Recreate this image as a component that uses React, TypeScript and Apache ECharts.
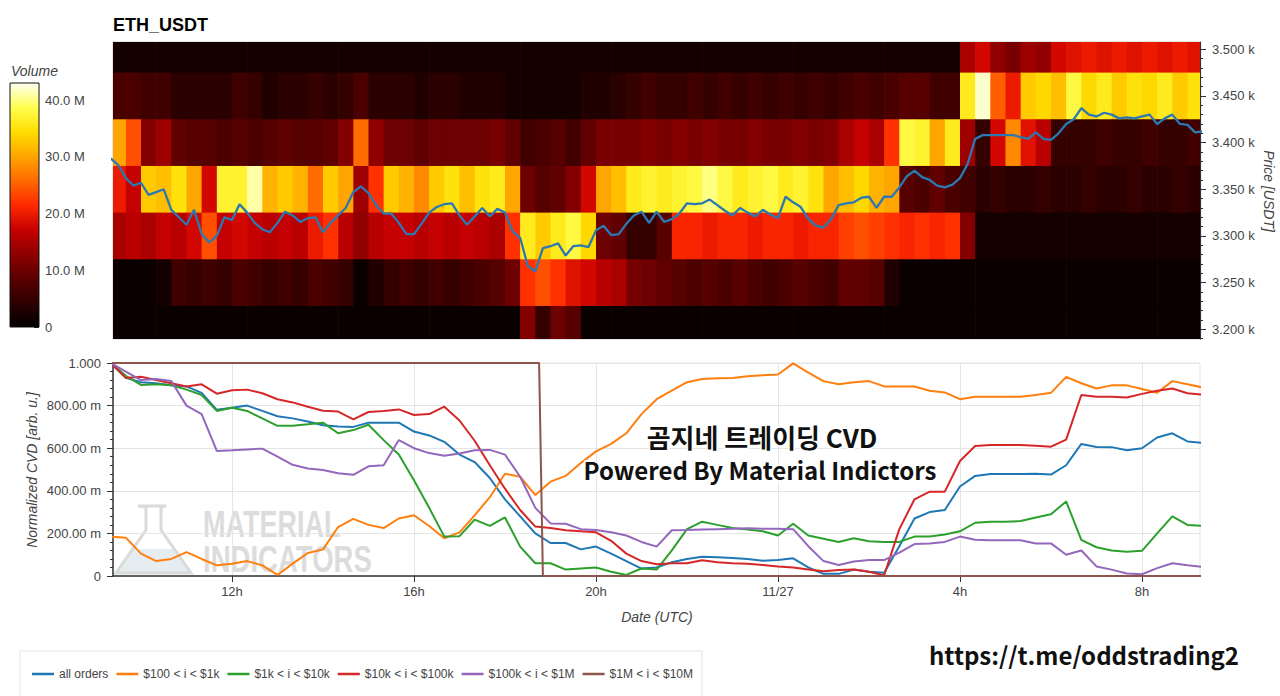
import React, { useEffect, useRef } from "react";
import * as echarts from "echarts";

// ---- time base: hours since 11/26 00:00 UTC ----
const cellStartHour = 9 + 20 / 60; // first heatmap column / first sample, 09:20
const cellHours = 1 / 3; // 20-minute heatmap columns
const priceStepHours = 1 / 6; // 10-minute price samples
const cvdStepHours = 1 / 3; // 20-minute CVD samples
const xMinHour = 9.385;
const xMaxHour = 33.275;

// ---- tick labels ----
const xTickHours = [12, 16, 20, 24, 28, 32];
const priceTicks = [3200, 3250, 3300, 3350, 3400, 3450, 3500];
const volumeTicks = [0, 10, 20, 30, 40];
const cvdMin = 0;
const cvdMax = 1;
const priceMin = 3189.6;
const priceMax = 3507.8;
const volumeMax = 43; // M

// ---- heatmap: volume (M) per 50 USDT price bin, 20-min columns ----
const priceBins = [3500, 3450, 3400, 3350, 3300, 3250, 3200];
const binHalf = 25;
const vol3500 = [2,2,2,2,2,2,2,2,2,2, 2,2,2,2,2,2,2,2,2,2, 2,2,2,2,2,2,2,2,2,2, 2,2,2,2,2,2,2,2,2,2, 2,2,2,2,2,2,2,2,2,2, 2,2,2,2,2,2,15,18,13,11, 14,13,18,19,20,19,20,19,20,19, 20,19];
const vol3450 = [7,7,6,6,4,4,4,4,6,5, 3,4,4,5,4,5,7,4,4,4, 3,4,4,3,3,3,2,2,2,2, 2,3,3,4,5,6,5,5,6,5, 6,5,6,5,6,5,6,5,6,7, 6,7,8,8,6,6,36,42,25,20, 33,34,32,38,34,36,33,35,34,36, 33,35];
const vol3400 = [30,24,12,14,9,8,8,7,8,7, 8,9,8,8,9,12,26,13,10,10, 9,10,10,10,10,11,9,6,7,8, 6,9,11,11,11,12,11,12,11,12, 11,11,12,11,11,12,11,12,15,17, 15,22,38,37,30,36,14,5,18,28, 19,16,5,5,5,6,5,5,6,5, 5,6];
const vol3350 = [20,17,33,32,35,30,18,37,37,41, 31,33,31,26,33,30,14,22,33,31, 28,33,35,32,35,36,30,10,8,9, 12,18,30,32,36,37,36,37,38,40, 38,36,37,38,36,37,35,30,32,34, 31,30,8,7,9,7,6,4,5,4, 4,5,4,4,5,4,4,5,4,4, 5,4];
const vol3300 = [15,16,15,17,16,18,24,17,18,17, 16,17,16,20,22,16,13,16,17,17, 16,17,16,17,16,15,22,36,33,36, 38,34,10,9,5,5,8,21,21,20, 21,21,20,21,21,20,21,21,23,24, 23,22,21,22,21,22,12,2,2,2, 2,2,2,2,2,2,2,2,2,2, 2,2];
const vol3250 = [1,1,1,2,6,5,6,5,7,6, 5,6,5,7,6,5,1,3,5,6, 5,6,5,6,7,8,10,22,24,22, 19,18,16,15,11,10,9,8,7,8, 7,8,7,6,7,8,7,6,9,9, 8,3,1,1,1,1,1,1,1,1, 1,1,1,1,1,1,1,1,1,1, 1,1];
const vol3200 = [1,1,1,1,1,1,1,1,1,1, 1,1,1,1,1,1,1,1,1,1, 1,1,1,1,1,1,1,12,5,10, 8,1,1,1,1,1,1,1,1,1, 1,1,1,1,1,1,1,1,1,1, 1,1,1,1,1,1,1,1,1,1, 1,1,1,1,1,1,1,1,1,1, 1,1];
const volumeRows = [vol3500, vol3450, vol3400, vol3350, vol3300, vol3250, vol3200];

// ---- price line (USDT), 10-min samples from 09:20 ----
const priceVals = [
  3383,3376,3362,3354,3357,3344,3347,3350,3328,3320,
  3312,3328,3302,3293,3300,3320,3317,3334,3325,3314,
  3307,3304,3314,3326,3322,3315,3319,3320,3304,3314,
  3322,3330,3347,3353,3346,3333,3324,3324,3314,3302,
  3302,3313,3325,3331,3334,3335,3322,3312,3321,3330,
  3321,3329,3325,3305,3298,3268,3262,3287,3289,3292,
  3279,3289,3290,3288,3306,3311,3301,3302,3313,3322,
  3326,3314,3326,3315,3318,3324,3335,3334,3335,3339,
  3333,3327,3322,3330,3325,3321,3328,3323,3319,3342,
  3336,3331,3318,3311,3309,3318,3333,3335,3336,3341,
  3342,3330,3342,3342,3352,3364,3370,3363,3360,3354,
  3352,3355,3362,3377,3404,3408,3408,3408,3408,3408,
  3406,3404,3411,3404,3403,3410,3420,3425,3437,3430,
  3428,3432,3430,3426,3427,3426,3428,3430,3420,3426,
  3430,3420,3419,3411,3412,
];

// ---- normalized CVD, 20-min samples from 09:20 ----
const cvdAll = [1.0,0.93,0.91,0.905,0.895,0.89,0.86,0.78,0.79,0.8, 0.775,0.75,0.74,0.725,0.708,0.702,0.7,0.72,0.72,0.72, 0.678,0.66,0.63,0.57,0.535,0.46,0.36,0.28,0.2,0.155, 0.155,0.125,0.138,0.105,0.07,0.035,0.04,0.065,0.08,0.09, 0.088,0.085,0.08,0.072,0.075,0.083,0.04,0.01,0.01,0.03, 0.02,0.015,0.14,0.27,0.3,0.31,0.42,0.47,0.479,0.479, 0.479,0.48,0.476,0.52,0.62,0.606,0.605,0.59,0.6,0.65, 0.67,0.632,0.625];
const cvd100to1k = [0.185,0.18,0.105,0.07,0.08,0.112,0.08,0.05,0.058,0.07, 0.05,0.005,0.058,0.108,0.125,0.23,0.268,0.24,0.225,0.27, 0.285,0.235,0.177,0.205,0.285,0.37,0.48,0.466,0.38,0.443, 0.47,0.53,0.585,0.62,0.67,0.76,0.83,0.87,0.91,0.925, 0.928,0.93,0.938,0.942,0.946,0.998,0.955,0.915,0.9,0.91, 0.915,0.89,0.89,0.89,0.87,0.862,0.83,0.842,0.842,0.842, 0.842,0.85,0.86,0.935,0.905,0.88,0.895,0.895,0.878,0.86, 0.915,0.9,0.885];
const cvd1kto10k = [1.0,0.94,0.897,0.9,0.895,0.875,0.85,0.775,0.79,0.775, 0.74,0.705,0.705,0.712,0.72,0.67,0.685,0.71,0.638,0.57, 0.45,0.32,0.185,0.187,0.265,0.235,0.275,0.138,0.06,0.06, 0.03,0.035,0.04,0.02,0.005,0.035,0.03,0.12,0.22,0.255, 0.24,0.225,0.218,0.21,0.19,0.245,0.19,0.175,0.16,0.177, 0.163,0.16,0.16,0.185,0.185,0.195,0.21,0.25,0.255,0.255, 0.258,0.275,0.29,0.35,0.17,0.135,0.12,0.114,0.118,0.2, 0.28,0.24,0.235];
const cvd10kto100k = [1.0,0.93,0.935,0.92,0.905,0.89,0.9,0.856,0.872,0.875, 0.858,0.83,0.815,0.795,0.776,0.772,0.735,0.77,0.775,0.782, 0.756,0.76,0.795,0.73,0.635,0.52,0.41,0.31,0.232,0.225, 0.215,0.21,0.205,0.165,0.105,0.07,0.055,0.06,0.06,0.074, 0.065,0.06,0.058,0.052,0.045,0.04,0.03,0.022,0.028,0.03, 0.02,0.003,0.22,0.36,0.396,0.396,0.54,0.61,0.615,0.615, 0.615,0.612,0.607,0.64,0.85,0.842,0.842,0.838,0.855,0.87, 0.88,0.858,0.852];
const cvd100kto1M = [1.0,0.96,0.92,0.925,0.915,0.8,0.76,0.587,0.59,0.594, 0.598,0.56,0.522,0.505,0.498,0.482,0.475,0.515,0.52,0.638, 0.6,0.577,0.565,0.575,0.59,0.592,0.57,0.466,0.32,0.247, 0.245,0.22,0.216,0.205,0.19,0.16,0.138,0.215,0.216,0.218, 0.22,0.222,0.224,0.222,0.222,0.22,0.14,0.07,0.052,0.068, 0.075,0.075,0.11,0.15,0.153,0.16,0.185,0.17,0.168,0.168, 0.168,0.153,0.153,0.1,0.12,0.045,0.03,0.012,0.008,0.037, 0.06,0.05,0.042];
const cvd1Mto10MHours = [9 + 20 / 60, 18.75, 18.833, 33.333];
const cvd1Mto10MVals = [1, 1, 0, 0];

const cvdNames = ["all orders", "$100 < i < $1k", "$1k < i < $10k", "$10k < i < $100k", "$100k < i < $1M", "$1M < i < $10M"];
const cvdColors = ["#1f77b4", "#ff7f0e", "#2ca02c", "#d62728", "#9467bd", "#8c564b"];

const fireColors = ["#000000", "#2e0000", "#5c0000", "#8f0000", "#c80000", "#ff2a00", "#ff6a00", "#ffa600", "#ffdd00", "#ffff50", "#fffff4"];

const FONT = '"Liberation Sans", Arial, sans-serif';
const KFONT = '"Noto Sans CJK KR", "Noto Sans", sans-serif';

function buildOption(): any {
  const heatData: number[][] = [];
  priceBins.forEach((p, i) => {
    volumeRows[i].forEach((v, k) => heatData.push([cellStartHour + k * cellHours, p, v]));
  });
  const priceData = priceVals.map((v, j) => [cellStartHour + j * priceStepHours, v]);
  const cvdSeriesVals = [cvdAll, cvd100to1k, cvd1kto10k, cvd10kto100k, cvd100kto1M];
  const cvdData = cvdSeriesVals.map((arr) => arr.map((v, k) => [cellStartHour + k * cvdStepHours, v]));
  cvdData.push(cvd1Mto10MHours.map((h, i) => [h, cvd1Mto10MVals[i]]));

  const priceMinor: number[] = [];
  for (let p = 3190; p <= 3500; p += 10) if (p % 50 !== 0) priceMinor.push(p);

  const axisText = { color: "#444", fontSize: 13, fontFamily: FONT };
  const gradient = new echarts.graphic.LinearGradient(
    0, 1, 0, 0,
    fireColors.map((c, i) => ({ offset: i / (fireColors.length - 1), color: c }))
  );

  return {
    animation: false,
    textStyle: { fontFamily: FONT },
    grid: [
      { left: 113, top: 42, width: 1087, height: 297, show: true, borderColor: "#cfcfcf", borderWidth: 1, backgroundColor: "transparent" },
      { left: 113, top: 363, width: 1087, height: 213, show: true, borderColor: "#e5e5e5", borderWidth: 1, backgroundColor: "transparent" },
      { left: 10, top: 83, width: 29, height: 244 },
    ],
    xAxis: [
      { type: "value", gridIndex: 0, min: xMinHour, max: xMaxHour, show: false },
      {
        type: "value", gridIndex: 1, min: xMinHour, max: xMaxHour,
        axisLine: { show: true, onZero: false, lineStyle: { color: "#333", width: 1.5 } },
        axisTick: { show: true, customValues: xTickHours, length: 6, lineStyle: { color: "#333" } },
        axisLabel: {
          customValues: xTickHours, ...axisText, margin: 9,
          formatter: (v: number) => (v % 24 === 0 ? "11/27" : `${v % 24}h`),
        },
        splitLine: { show: true, lineStyle: { color: "#e5e5e5" } },
      },
      { type: "category", gridIndex: 2, data: ["v"], show: false },
    ],
    yAxis: [
      {
        type: "value", gridIndex: 0, position: "right", min: priceMin, max: priceMax,
        axisLine: { show: true, lineStyle: { color: "#333", width: 1.2 } },
        axisTick: { show: true, customValues: priceTicks, length: 6, lineStyle: { color: "#333" } },
        axisLabel: { customValues: priceTicks, ...axisText, margin: 12, formatter: (v: number) => `${(v / 1000).toFixed(3)} k` },
        splitLine: { show: false },
      },
      {
        type: "value", gridIndex: 0, position: "right", min: priceMin, max: priceMax,
        axisLine: { show: false },
        axisTick: { show: true, customValues: priceMinor, length: 3, lineStyle: { color: "#333" } },
        axisLabel: { show: false },
        splitLine: { show: false },
      },
      {
        type: "value", gridIndex: 1, min: cvdMin, max: cvdMax, interval: 0.2,
        axisLine: { show: true, lineStyle: { color: "#333", width: 1.5 } },
        axisTick: { show: true, length: 6, lineStyle: { color: "#333" } },
        minorTick: { show: true, splitNumber: 5, length: 3, lineStyle: { color: "#333" } },
        axisLabel: {
          ...axisText, margin: 12,
          formatter: (v: number) => (v === 0 ? "0" : Math.abs(v - 1) < 1e-9 ? "1.000" : `${(v * 1000).toFixed(2)} m`),
        },
        splitLine: { show: true, lineStyle: { color: "#e5e5e5" } },
      },
      {
        type: "value", gridIndex: 2, position: "right", min: 0, max: volumeMax,
        axisLine: { show: false },
        axisTick: { show: true, inside: true, customValues: volumeTicks, length: 5, lineStyle: { color: "#222" } },
        axisLabel: { customValues: volumeTicks, ...axisText, margin: 6, formatter: (v: number) => (v === 0 ? "0" : `${v.toFixed(1)} M`) },
        splitLine: { show: false },
      },
    ],
    visualMap: {
      type: "continuous", show: false, seriesIndex: 0, dimension: 2,
      min: 0, max: volumeMax, inRange: { color: fireColors },
    },
    legend: {
      data: cvdNames, left: 20, top: 651, orient: "horizontal",
      icon: "rect", itemWidth: 22, itemHeight: 2.5, itemGap: 8,
      textStyle: { color: "#444", fontSize: 12, fontFamily: FONT },
      borderColor: "#e5e5e5", borderWidth: 1, padding: [17, 9, 17, 12],
    },
    series: [
      {
        type: "custom", xAxisIndex: 0, yAxisIndex: 0, data: heatData, encode: { x: 0, y: 1 }, z: 1,
        renderItem: (params: any, api: any) => {
          const t = api.value(0);
          const p = api.value(1);
          const a = api.coord([t, p + binHalf]);
          const b = api.coord([t + cellHours, p - binHalf]);
          const cs = params.coordSys;
          const shape = echarts.graphic.clipRectByRect(
            { x: a[0], y: a[1], width: b[0] - a[0] + 0.7, height: b[1] - a[1] + 0.7 },
            { x: cs.x, y: cs.y, width: cs.width, height: cs.height }
          );
          if (!shape) return null;
          return { type: "rect", shape, style: { fill: api.visual("color") } };
        },
      },
      {
        type: "line", name: "price", xAxisIndex: 0, yAxisIndex: 0, data: priceData, z: 5,
        showSymbol: false, symbol: "none", lineStyle: { color: "#2b78b3", width: 2.3 }, itemStyle: { color: "#2b78b3" },
      },
      ...cvdNames.map((name, i) => ({
        type: "line", name, xAxisIndex: 1, yAxisIndex: 2, data: cvdData[i], z: 5,
        showSymbol: false, symbol: "none",
        lineStyle: { color: cvdColors[i], width: 2 }, itemStyle: { color: cvdColors[i] },
      })),
      {
        type: "custom", xAxisIndex: 2, yAxisIndex: 3, data: [[0]], silent: true,
        renderItem: (params: any) => {
          const cs = params.coordSys;
          return {
            type: "rect",
            shape: { x: cs.x, y: cs.y, width: cs.width, height: cs.height },
            style: { fill: gradient, stroke: "#111", lineWidth: 1 },
          };
        },
      },
    ],
    graphic: [
      // watermark
      {
        type: "polygon", z: 0, silent: true,
        shape: { points: [[131, 549], [174, 549], [190, 572], [117, 572]] },
        style: { fill: "#e6edf1" },
      },
      {
        type: "polyline", z: 0, silent: true,
        shape: { points: [[138, 506], [166, 506], [161, 507], [161, 530], [191, 573], [116, 573], [146, 530], [146, 507], [138, 506]] },
        style: { stroke: "#dadada", lineWidth: 3, fill: "none" },
      },
      {
        type: "text", z: 0, silent: true, x: 203, y: 524, scaleX: 0.73,
        style: { text: "MATERIAL", fontSize: 37, fontWeight: "bold", fontFamily: FONT, fill: "#dcdcdc", align: "left", verticalAlign: "middle" },
      },
      {
        type: "text", z: 0, silent: true, x: 203, y: 559, scaleX: 0.745,
        style: { text: "INDICATORS", fontSize: 37, fontWeight: "bold", fontFamily: FONT, fill: "#dcdcdc", align: "left", verticalAlign: "middle" },
      },
      // titles
      {
        type: "text", x: 113, y: 25,
        style: { text: "ETH_USDT", fontSize: 18, fontWeight: "bold", fontFamily: FONT, fill: "#000", align: "left", verticalAlign: "middle" },
      },
      {
        type: "text", x: 11, y: 71,
        style: { text: "Volume", fontSize: 14, fontStyle: "italic", fontFamily: FONT, fill: "#444", align: "left", verticalAlign: "middle" },
      },
      {
        type: "text", x: 32, y: 470, rotation: Math.PI / 2,
        style: { text: "Normalized CVD [arb. u.]", fontSize: 14, fontStyle: "italic", fontFamily: FONT, fill: "#444", align: "center", verticalAlign: "middle" },
      },
      {
        type: "text", x: 657, y: 617,
        style: { text: "Date (UTC)", fontSize: 14, fontStyle: "italic", fontFamily: FONT, fill: "#444", align: "center", verticalAlign: "middle" },
      },
      {
        type: "text", x: 1269, y: 191, rotation: -Math.PI / 2,
        style: { text: "Price [USDT]", fontSize: 14, fontStyle: "italic", fontFamily: FONT, fill: "#444", align: "center", verticalAlign: "middle" },
      },
      // overlay texts
      {
        type: "text", z: 100, x: 762, y: 436,
        style: { text: "곰지네 트레이딩 CVD", fontSize: 26, fontWeight: "bold", fontFamily: KFONT, fill: "#111", align: "center", verticalAlign: "middle", stroke: "#fff", lineWidth: 3 },
      },
      {
        type: "text", z: 100, x: 760, y: 469,
        style: { text: "Powered By Material Indictors", fontSize: 24, fontWeight: "bold", fontFamily: KFONT, fill: "#111", align: "center", verticalAlign: "middle", stroke: "#fff", lineWidth: 3 },
      },
      {
        type: "text", z: 100, x: 1084, y: 654,
        style: { text: "https://t.me/oddstrading2", fontSize: 24, fontWeight: "bold", fontFamily: KFONT, fill: "#111", align: "center", verticalAlign: "middle" },
      },
    ],
  };
}

export default function App() {
  const ref = useRef<HTMLDivElement>(null);
  useEffect(() => {
    if (!ref.current) return;
    const chart = echarts.init(ref.current, undefined, { renderer: "svg" });
    chart.setOption(buildOption());
    return () => chart.dispose();
  }, []);
  return (
    <div
      ref={ref}
      style={{ position: "fixed", left: 0, top: 0, width: 1280, height: 696, background: "#fff" }}
    />
  );
}
